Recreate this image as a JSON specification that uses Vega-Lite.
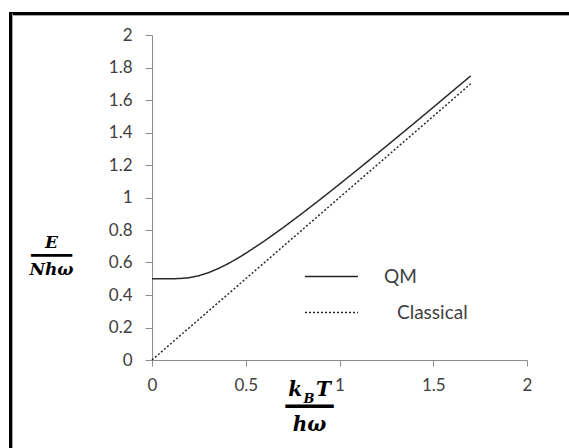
{
  "$schema": "https://vega.github.io/schema/vega-lite/v6.json",
  "width": 559,
  "height": 435,
  "autosize": {"type": "none"},
  "padding": {"left": 10, "top": 13, "right": 0, "bottom": 0},
  "background": "white",
  "config": {"view": {"stroke": null}},
  "title": {"text": "B", "orient": "bottom", "anchor": "start", "frame": "group", "align": "center", "baseline": "middle", "dx": 299, "offset": -49, "font": "DejaVu Serif", "fontStyle": "italic", "fontWeight": "bold", "fontSize": 13, "color": "black"},
  "data": {"values": [
    {"t": 0, "E": 0.5, "series": "QM"},
    {"t": 0.05, "E": 0.5, "series": "QM"},
    {"t": 0.1, "E": 0.5, "series": "QM"},
    {"t": 0.15, "E": 0.5013, "series": "QM"},
    {"t": 0.2, "E": 0.5068, "series": "QM"},
    {"t": 0.25, "E": 0.5187, "series": "QM"},
    {"t": 0.3, "E": 0.537, "series": "QM"},
    {"t": 0.35, "E": 0.5609, "series": "QM"},
    {"t": 0.4, "E": 0.5894, "series": "QM"},
    {"t": 0.45, "E": 0.6216, "series": "QM"},
    {"t": 0.5, "E": 0.6565, "series": "QM"},
    {"t": 0.6, "E": 0.7329, "series": "QM"},
    {"t": 0.7, "E": 0.8152, "series": "QM"},
    {"t": 0.8, "E": 0.9016, "series": "QM"},
    {"t": 0.9, "E": 0.9907, "series": "QM"},
    {"t": 1.0, "E": 1.082, "series": "QM"},
    {"t": 1.1, "E": 1.1748, "series": "QM"},
    {"t": 1.2, "E": 1.2687, "series": "QM"},
    {"t": 1.3, "E": 1.3636, "series": "QM"},
    {"t": 1.4, "E": 1.4588, "series": "QM"},
    {"t": 1.5, "E": 1.5549, "series": "QM"},
    {"t": 1.6, "E": 1.6521, "series": "QM"},
    {"t": 1.7, "E": 1.7484, "series": "QM"},
    {"t": 0, "E": 0, "series": "Classical"},
    {"t": 0.5, "E": 0.5, "series": "Classical"},
    {"t": 1.0, "E": 1.0, "series": "Classical"},
    {"t": 1.5, "E": 1.5, "series": "Classical"},
    {"t": 1.7, "E": 1.7, "series": "Classical"}
  ]},
  "resolve": {"scale": {"x": "independent", "y": "independent"}, "axis": {"x": "independent", "y": "independent"}},
  "layer": [
    {
      "mark": {"type": "line", "strokeWidth": 1.5, "color": "#2a2a2a"},
      "encoding": {
        "x": {
          "field": "t", "type": "quantitative",
          "scale": {"domain": [0, 2], "range": [142, 517], "nice": false, "zero": false},
          "axis": {
            "orient": "bottom", "offset": -88, "values": [0, 0.5, 1, 1.5, 2], "format": "~g",
            "grid": false, "domainColor": "#8c8c8c", "tickColor": "#8c8c8c", "tickSize": 6,
            "labelFont": "Lato", "labelFontSize": 17, "labelColor": "#404040", "labelPadding": 11,
            "labelFlush": false, "labelOverlap": false,
            "title": ["k\u00a0\u00a0T", "━━━━", "hω"],
            "titleX": 299, "titleY": 29, "titleAlign": "center", "titleBaseline": "middle",
            "titleFont": "DejaVu Serif", "titleFontStyle": "italic", "titleFontWeight": "bold",
            "titleFontSize": 20, "titleLineHeight": 17.5, "titleColor": "black"
          }
        },
        "y": {
          "field": "E", "type": "quantitative",
          "scale": {"domain": [0, 2], "range": [347, 22], "nice": false, "zero": false},
          "axis": {
            "orient": "left", "offset": -142, "values": [0, 0.2, 0.4, 0.6, 0.8, 1, 1.2, 1.4, 1.6, 1.8, 2], "format": "~g",
            "grid": false, "domainColor": "#8c8c8c", "tickColor": "#8c8c8c", "tickSize": 7,
            "labelFont": "Lato", "labelFontSize": 17, "labelColor": "#404040", "labelPadding": 13,
            "labelFlush": false, "labelOverlap": false,
            "title": ["E", "━━━━", "Nhω"],
            "titleX": -101, "titleY": 229, "titleAngle": 0, "titleAlign": "center", "titleBaseline": "middle",
            "titleFont": "DejaVu Serif", "titleFontStyle": "italic", "titleFontWeight": "bold",
            "titleFontSize": 17, "titleLineHeight": 13.5, "titleColor": "black"
          }
        },
        "strokeDash": {
          "field": "series", "type": "nominal",
          "scale": {"domain": ["QM", "Classical"], "range": [[1, 0], [2, 2]]},
          "legend": {
            "orient": "none", "legendX": 302, "legendY": 244, "title": null, "padding": 0,
            "symbolType": "M-1.43,0H1.43", "symbolSize": 1369, "symbolStrokeWidth": 1.5, "symbolStrokeColor": "#222",
            "labelFont": "Lato", "labelFontSize": 19, "labelColor": "#404040", "labelOffset": 33, "rowPadding": 6,
            "encode": {"labels": {"update": {"dx": {"signal": "datum.value === 'Classical' ? 13 : 0"}}}}
          }
        }
      }
    },
    {
      "mark": {"type": "line", "strokeOpacity": 0, "color": "white"},
      "encoding": {
        "x": {
          "field": "t", "type": "quantitative",
          "scale": {"domain": [0, 2], "nice": false, "zero": false},
          "axis": {"orient": "top", "offset": 0, "domainColor": "black", "domainWidth": 3, "domainCap": "square", "ticks": false, "labels": false, "grid": false, "title": null}
        },
        "y": {
          "field": "E", "type": "quantitative",
          "scale": {"domain": [0, 2], "nice": false, "zero": false},
          "axis": {"orient": "left", "offset": 0, "domainColor": "black", "domainWidth": 3, "domainCap": "square", "ticks": false, "labels": false, "grid": false, "title": null}
        }
      }
    },
    {
      "mark": {"type": "line", "strokeOpacity": 0, "color": "white"},
      "encoding": {
        "x": {
          "field": "t", "type": "quantitative",
          "scale": {"domain": [0, 2], "nice": false, "zero": false},
          "axis": {"orient": "top", "offset": -2, "domainColor": "#a6a6a6", "domainWidth": 1, "ticks": false, "labels": false, "grid": false, "title": null}
        },
        "y": {
          "field": "E", "type": "quantitative",
          "scale": {"domain": [0, 2], "nice": false, "zero": false},
          "axis": {"orient": "left", "offset": -2, "domainColor": "#a6a6a6", "domainWidth": 1, "ticks": false, "labels": false, "grid": false, "title": null}
        }
      }
    }
  ]
}
